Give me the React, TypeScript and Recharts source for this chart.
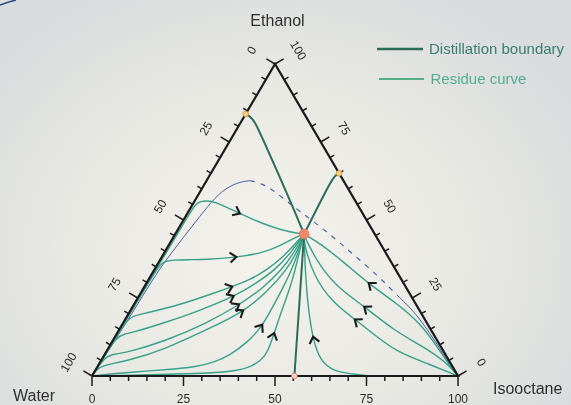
import React from "react";
import {
  ComposedChart,
  Line,
  Scatter,
  XAxis,
  YAxis,
  ReferenceDot,
} from "recharts";

/* ── Data: points are [ethanol %, isooctane %], water = 100 - both ── */
const TICKS = [0, 5, 10, 15, 20, 25, 30, 35, 40, 45, 50, 55, 60, 65, 70, 75, 80, 85, 90, 95, 100];
const TICK_LABELS = [0, 25, 50, 75, 100];

const AZEO_TERNARY = [45.5, 35.2];
const AZEO_ETOH_WATER = [84, 0];
const AZEO_ETOH_ISO = [65, 35];
const AZEO_WATER_ISO = [0, 55.3];

const boundaryLeft = [[84, 0], [83.2, 1.6], [81.4, 3.8], [78.8, 6.2], [56.4, 25.9], [45.5, 35.2]];
const boundaryRight = [[65, 35], [64.2, 34.3], [62.5, 34], [45.5, 35.2]];
const boundaryBottom = [[45.5, 35.2], [0, 55.3]];

const blueSolidA = [[0, 0], [10, 0.5], [20, 0.9], [30.8, 1.1], [37.2, 1.6], [44.6, 2.8], [51.3, 3.9], [57.4, 5.0], [60.6, 6.9], [62.2, 9.3], [62.6, 11.9]];
const blueDashed = [[62.6, 11.9], [61.7, 15.6], [59.6, 19.65], [55.9, 25.4], [52.7, 30.5], [46.25, 41.1], [39.3, 51.4], [32.4, 61.7], [26.9, 69.05]];
const blueSolidB = [[26, 70.25], [21.15, 77.1], [14.2, 85], [6.2, 93.3], [0, 100]];

// residue curves, listed in the direction of the arrows
const rc1 = [[0, 0], [20, 0.3], [40, 0.5], [52, 0.6], [55.1, 0.8], [55.9, 1.5], [56.2, 3.2], [55.9, 5.7], [52.3, 13.8], [48.9, 21.9], [46.8, 28.4], [45.7, 33.5], [45.5, 35.2]];
const rc2 = [[0, 0], [15, 0.3], [30, 0.5], [35.4, 0.7], [36.7, 1.3], [37.2, 3.3], [37.3, 8.1], [37.3, 12.2], [38, 20.1], [39.3, 26.8], [42, 30.9], [44.4, 33.3], [45.5, 35.2]];
const rc3 = [[0, 0], [10, 0.3], [18.2, 0.5], [19.4, 2.05], [20.2, 4.85], [22.8, 12.6], [26.5, 19.9], [28.4, 23.5], [30.8, 27.8], [34, 30.7], [37.8, 33], [42.3, 34.3], [45.5, 35.2]];
const rc4 = [[0, 0], [6, 0.25], [12.5, 0.45], [13.5, 2.3], [13.7, 3.5], [16.9, 11], [20.6, 18.3], [25.6, 26.3], [29.5, 29.8], [34, 33], [39.1, 34.55], [45.5, 35.2]];
const rc5 = [[0, 0], [6.3, 0.4], [7.05, 2.75], [7.8, 6.5], [11, 14], [16.9, 22.9], [22.8, 28.8], [27.9, 32.5], [34, 34.8], [39.4, 35.5], [45.5, 35.2]];
const rc6 = [[0, 0], [2.9, 0.35], [3.85, 3], [5.13, 7.8], [8.33, 15.3], [15.8, 25.2], [20.4, 30.9], [26.9, 34.35], [34, 36.2], [39.7, 36.15], [45.5, 35.2]];
const rc7 = [[0, 0], [0.7, 4.6], [1.6, 14.2], [2.25, 21.6], [3, 27.1], [4.5, 31.35], [6.7, 34.35], [10.9, 37.15], [15.8, 38.5], [21.8, 38.3], [27.6, 38.1], [34, 37.56], [40.4, 36.4], [45.5, 35.2]];
const rc8 = [[0, 0], [0.26, 10.25], [0.64, 23.7], [0.96, 31.7], [1.4, 37], [2.5, 41.5], [5.1, 43.8], [8, 44.1], [12.5, 43.2], [21.15, 41.3], [28.2, 40], [34, 38.5], [40.4, 36.6], [45.5, 35.2]];
const rc9 = [[0, 76], [0.5, 72], [1.4, 65.2], [5.1, 59.7], [11.5, 54.7], [21.15, 48.5], [35, 40.7], [40.4, 37.9], [45.5, 35.2]];
const rc10 = [[0, 100], [4, 95.3], [9.4, 89.6], [16.9, 81.2], [23.3, 71.6], [29.2, 61.4], [36.6, 50.4], [42.5, 41.05], [45.5, 35.2]];
const rc11 = [[0, 100], [4.6, 94.3], [9.4, 85.8], [14.7, 75], [22.2, 63.5], [27.6, 54], [35, 44.8], [44.1, 36.2], [45.5, 35.2]];
const rc12 = [[0, 100], [4.1, 89.4], [7.8, 79.35], [12.6, 71.5], [17.7, 63.5], [23.3, 54.3], [31.8, 44.6], [43.6, 35.9], [45.5, 35.2]];

const residueCurves = [rc1, rc2, rc3, rc4, rc5, rc6, rc7, rc8, rc9, rc10, rc11, rc12];
// index of the point on each curve that carries the arrow
const arrowAt = [8, 8, 7, 7, 6, 6, 8, 8, 4, 5, 4, 4];

/* ── Layout ── */
const W = 571;
const H = 405;
const M = { top: 64, right: 113, bottom: 29, left: 92 };
const PW = W - M.left - M.right;
const PH = H - M.top - M.bottom;

const BOUNDARY = "#2d6b5b";
const RESIDUE = "#38a088";
const BLUE = "#4a5c9c";
const FONT = "'Liberation Sans', Arial, sans-serif";

const toXY = ([e, i]: number[]) => ({ x: i + e / 2, y: e });

// outward normals of the edges, in screen pixels
const edgeLen = Math.hypot(PW / 2, PH);
const NL = { nx: -PH / edgeLen, ny: -(PW / 2) / edgeLen };
const NR = { nx: PH / edgeLen, ny: -(PW / 2) / edgeLen };
const NB = { nx: 0, ny: 1 };
const EDGE_ANGLE = (Math.atan2(PH, PW / 2) * 180) / Math.PI;

const tickData = TICKS.flatMap((t) => [
  { x: t, y: 0, ...NB, major: t % 25 === 0 },
  { x: (100 - t) / 2, y: 100 - t, ...NL, major: t % 25 === 0 },
  { x: 100 - t / 2, y: t, ...NR, major: t % 25 === 0 },
]);

const labelData = TICK_LABELS.flatMap((t) => [
  { x: t, y: 0, ...NB, label: t, rot: 0, off: 23 },
  { x: (100 - t) / 2, y: 100 - t, ...NL, label: t, rot: -EDGE_ANGLE, off: 27 },
  { x: 100 - t / 2, y: t, ...NR, label: t, rot: EDGE_ANGLE, off: 27 },
]);

const arrowData = residueCurves.map((c, n) => {
  const k = arrowAt[n];
  const p0 = toXY(c[k - 1]);
  const p1 = toXY(c[k]);
  const p2 = toXY(c[k + 1]);
  const dx = ((p2.x - p0.x) * PW) / 100;
  const dy = (-(p2.y - p0.y) * PH) / 100;
  return {
    x: (p0.x + 4 * p1.x + p2.x) / 6,
    y: (p0.y + 4 * p1.y + p2.y) / 6,
    angle: (Math.atan2(dy, dx) * 180) / Math.PI,
  };
});

const triangle = [{ x: 0, y: 0 }, { x: 100, y: 0 }, { x: 50, y: 100 }, { x: 0, y: 0 }];

const TickShape = (props: any) => {
  const { cx, cy, payload } = props;
  const len = payload.major ? 10 : 5;
  return (
    <line
      x1={cx}
      y1={cy}
      x2={cx + payload.nx * len}
      y2={cy + payload.ny * len}
      stroke="#1c1c1c"
      strokeWidth={1.5}
    />
  );
};

const LabelShape = (props: any) => {
  const { cx, cy, payload } = props;
  const tx = cx + payload.nx * payload.off;
  const ty = cy + payload.ny * payload.off;
  return (
    <text
      x={tx}
      y={ty}
      textAnchor="middle"
      dominantBaseline="central"
      fontSize={12}
      fontFamily={FONT}
      fill="#2a2a2a"
      transform={`rotate(${payload.rot} ${tx} ${ty})`}
    >
      {payload.label}
    </text>
  );
};

const ArrowShape = (props: any) => {
  const { cx, cy, payload } = props;
  return (
    <path
      d="M -4.5 -5 L 1.8 0 L -4.5 5"
      fill="none"
      stroke="#1b1b1b"
      strokeWidth={2.1}
      strokeLinejoin="miter"
      transform={`translate(${cx} ${cy}) rotate(${payload.angle})`}
    />
  );
};

export default function App() {
  return (
    <div
      style={{
        position: "fixed",
        left: 0,
        top: 0,
        width: W,
        height: H,
        overflow: "hidden",
        background:
          "radial-gradient(ellipse 62% 72% at 47% 62%, #f4f2ec 0%, #e9e9e4 55%, #d9dcdd 100%)",
      }}
    >
      <ComposedChart width={W} height={H} margin={M}>
        <XAxis type="number" dataKey="x" domain={[0, 100]} hide />
        <YAxis type="number" dataKey="y" domain={[0, 100]} hide width={0} />

        {/* blue curve (solid / dashed / solid) */}
        <Line data={blueSolidA.map(toXY)} dataKey="y" type="basis" stroke={BLUE} strokeWidth={1} dot={false} isAnimationActive={false} />
        <Line data={blueDashed.map(toXY)} dataKey="y" type="basis" stroke={BLUE} strokeWidth={1.1} strokeDasharray="5 6" dot={false} isAnimationActive={false} />
        <Line data={blueSolidB.map(toXY)} dataKey="y" type="basis" stroke={BLUE} strokeWidth={1} dot={false} isAnimationActive={false} />

        {/* residue curves */}
        {residueCurves.map((c, n) => (
          <Line
            key={`rc${n}`}
            data={c.map(toXY)}
            dataKey="y"
            type="basis"
            stroke={RESIDUE}
            strokeWidth={1.4}
            dot={false}
            isAnimationActive={false}
          />
        ))}

        {/* distillation boundaries */}
        <Line data={boundaryLeft.map(toXY)} dataKey="y" type="basis" stroke={BOUNDARY} strokeWidth={2} dot={false} isAnimationActive={false} />
        <Line data={boundaryRight.map(toXY)} dataKey="y" type="basis" stroke={BOUNDARY} strokeWidth={2} dot={false} isAnimationActive={false} />
        <Line data={boundaryBottom.map(toXY)} dataKey="y" type="linear" stroke={BOUNDARY} strokeWidth={2} dot={false} isAnimationActive={false} />

        {/* triangle frame */}
        <Line data={triangle} dataKey="y" type="linear" stroke="#1a1a1a" strokeWidth={2.2} dot={false} isAnimationActive={false} />

        <Scatter data={tickData} dataKey="y" shape={TickShape} isAnimationActive={false} />
        <Scatter data={labelData} dataKey="y" shape={LabelShape} isAnimationActive={false} />
        <Scatter data={arrowData} dataKey="y" shape={ArrowShape} isAnimationActive={false} />

        <ReferenceDot {...toXY(AZEO_ETOH_WATER)} r={2.8} fill="#ffd27a" stroke="#c8913a" strokeWidth={0.8} />
        <ReferenceDot {...toXY(AZEO_ETOH_ISO)} r={2.8} fill="#ffd27a" stroke="#c8913a" strokeWidth={0.8} />
        <ReferenceDot {...toXY(AZEO_WATER_ISO)} r={2.8} fill="#fbd5c4" stroke="#e0806c" strokeWidth={0.9} />
        <ReferenceDot {...toXY(AZEO_TERNARY)} r={4.8} fill="#f28a6e" stroke="#e5735a" strokeWidth={1} />
      </ComposedChart>

      <svg
        width={W}
        height={H}
        style={{ position: "absolute", left: 0, top: 0, pointerEvents: "none" }}
        fontFamily={FONT}
      >
        <path d="M 0 5 Q 8 2 16 0" stroke="#2a4a80" strokeWidth={1.5} fill="none" />
        <text x={277.5} y={26} textAnchor="middle" fontSize={16} fill="#2e2e2e">Ethanol</text>
        <text x={13} y={401} fontSize={16} fill="#2e2e2e">Water</text>
        <text x={493} y={394} fontSize={16} fill="#2e2e2e">Isooctane</text>

        <line x1={377} y1={49} x2={423} y2={49} stroke={BOUNDARY} strokeWidth={2.4} />
        <text x={429} y={54} fontSize={15} fill="#3a7e70">Distillation boundary</text>
        <line x1={379} y1={79} x2={424} y2={79} stroke="#54ad87" strokeWidth={2} />
        <text x={430.5} y={84} fontSize={15} fill="#4fae92">Residue curve</text>
      </svg>
    </div>
  );
}
